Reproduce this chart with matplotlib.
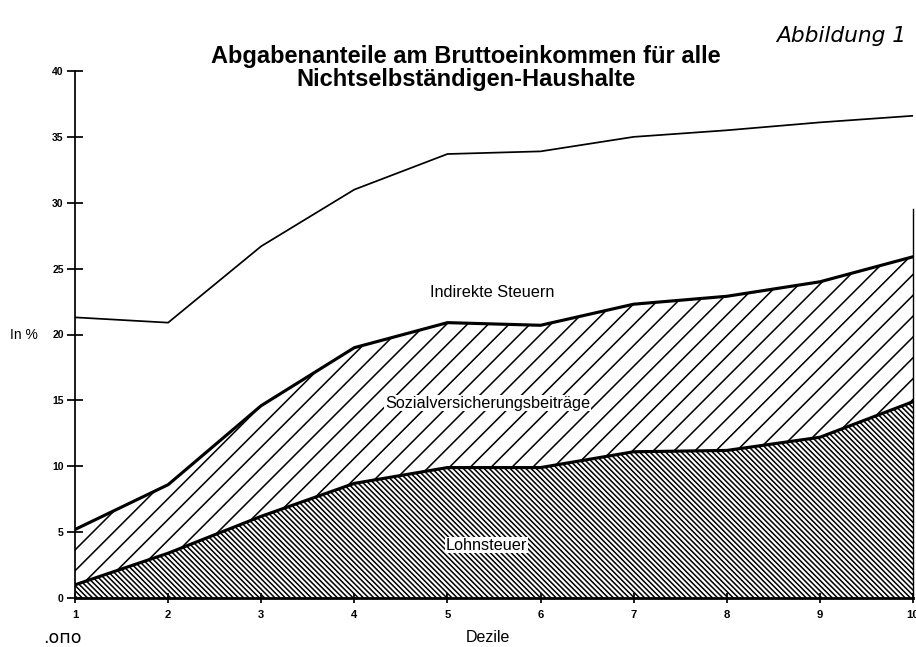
import matplotlib.pyplot as plt
import numpy as np

# Dezile und Abgabenanteile (kumuliert, in % des Bruttoeinkommens)
dezile = [1, 2, 3, 4, 5, 6, 7, 8, 9, 10]
lohnsteuer = [1.0, 3.4, 6.2, 8.7, 9.9, 9.9, 11.1, 11.2, 12.2, 14.9]
sozial_kum = [5.2, 8.6, 14.6, 19.0, 20.9, 20.7, 22.3, 22.9, 24.0, 25.9]
indirekt_kum = [21.3, 20.9, 26.7, 31.0, 33.7, 33.9, 35.0, 35.5, 36.1, 36.6]
y_ticks = [0, 5, 10, 15, 20, 25, 30, 35, 40]

plt.rcParams['font.family'] = ['Liberation Sans', 'DejaVu Sans']
plt.rcParams['hatch.linewidth'] = 0.9
plt.rcParams['hatch.color'] = 'black'

fig = plt.figure(figsize=(916 / 125, 647 / 125), dpi=125)
ax = fig.add_axes([75 / 916, 49 / 647, 838 / 916, 527 / 647])

x = np.array(dezile)
ax.fill_between(x, 0, lohnsteuer, facecolor='white', edgecolor='black',
                hatch='\\' * 8, linewidth=0)
ax.fill_between(x, lohnsteuer, sozial_kum, facecolor='white', edgecolor='black',
                hatch='//', linewidth=0)
ax.plot(x, lohnsteuer, color='black', lw=1.8)
ax.plot(x, sozial_kum, color='black', lw=1.8)
ax.plot(x, indirekt_kum, color='black', lw=1.0)

ax.set_xlim(1, 10)
ax.set_ylim(0, 40)
ax.set_xticks(dezile)
ax.set_yticks(y_ticks)
ax.spines['top'].set_visible(False)
ax.spines['right'].set_bounds(0, 29.5)
ax.spines['right'].set_linewidth(0.8)
ax.spines['left'].set_linewidth(1.0)
ax.spines['bottom'].set_linewidth(1.6)
ax.tick_params(axis='y', direction='inout', length=9, width=1.0, pad=2,
               labelsize=6, right=False)
ax.tick_params(axis='x', direction='inout', length=6, width=1.0, pad=4,
               labelsize=6.5)
for lab in ax.get_xticklabels() + ax.get_yticklabels():
    lab.set_fontweight('bold')

ax.text(5.48, 23.2, 'Indirekte Steuern', ha='center', va='center', fontsize=9.4)
ax.text(5.43, 14.8, 'Sozialversicherungsbeiträge', ha='center', va='center',
        fontsize=9.4, bbox=dict(facecolor='white', edgecolor='none', pad=0.3))
ax.text(5.42, 4.0, 'Lohnsteuer', ha='center', va='center', fontsize=9.4,
        bbox=dict(facecolor='white', edgecolor='none', pad=0.3))

fig.text(466 / 916, 1 - 68 / 647,
         'Abgabenanteile am Bruttoeinkommen für alle\nNichtselbständigen-Haushalte',
         ha='center', va='center', fontsize=13.6, fontweight='bold', linespacing=0.95)
fig.text(776 / 916, 1 - 36 / 647, 'Abbildung 1', ha='left', va='center',
         fontsize=12.5, style='italic', family=['DejaVu Sans'])
fig.text(10 / 916, 1 - 335 / 647, 'In %', ha='left', va='center', fontsize=8)
fig.text(488 / 916, 1 - 638 / 647, 'Dezile', ha='center', va='center', fontsize=9.2)
fig.text(43 / 916, 1 - 638 / 647, '.опо', ha='left', va='center', fontsize=10,
         family=['DejaVu Sans'])

fig.savefig('out.png', dpi=125, facecolor='white')
